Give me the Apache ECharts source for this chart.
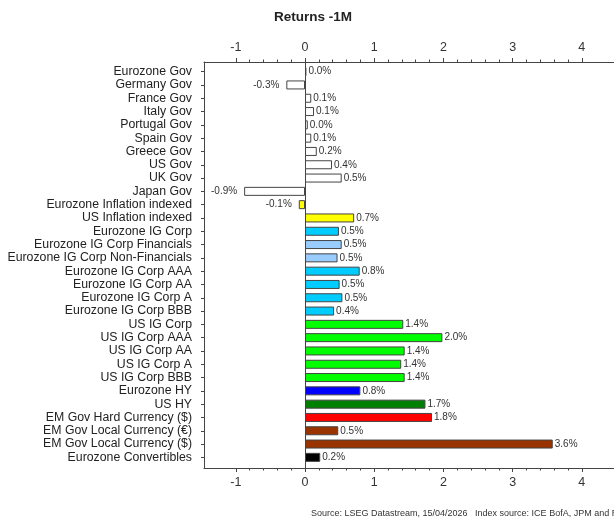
<!DOCTYPE html>
<html>
<head>
<meta charset="utf-8">
<script src="https://cdn.jsdelivr.net/npm/echarts@6/dist/echarts.min.js"></script>
<style>
  html, body { margin: 0; padding: 0; background: #fff; }
  #chart { width: 614px; height: 521px; }
</style>
</head>
<body>
<div id="chart"></div>
<script>
// Index categories, top to bottom
const categories = [
  'Eurozone Gov', 'Germany Gov', 'France Gov', 'Italy Gov', 'Portugal Gov',
  'Spain Gov', 'Greece Gov', 'US Gov', 'UK Gov', 'Japan Gov',
  'Eurozone Inflation indexed', 'US Inflation indexed', 'Eurozone IG Corp',
  'Eurozone IG Corp Financials', 'Eurozone IG Corp Non-Financials',
  'Eurozone IG Corp AAA', 'Eurozone IG Corp AA', 'Eurozone IG Corp A',
  'Eurozone IG Corp BBB', 'US IG Corp', 'US IG Corp AAA', 'US IG Corp AA',
  'US IG Corp A', 'US IG Corp BBB', 'Eurozone HY', 'US HY',
  'EM Gov Hard Currency ($)', 'EM Gov Local Currency (€)',
  'EM Gov Local Currency ($)', 'Eurozone Convertibles'
];

// One-month total returns, %
const returns1M = [
  0.02, -0.27, 0.09, 0.13, 0.04,
  0.09, 0.17, 0.39, 0.53, -0.88,
  -0.09, 0.71, 0.49,
  0.53, 0.47,
  0.79, 0.50, 0.54,
  0.42, 1.42, 1.985, 1.44,
  1.39, 1.44, 0.80, 1.74,
  1.835, 0.48,
  3.58, 0.22
];

// Fill colour for each bar, by asset class
const barColors = [
  '#ffffff', '#ffffff', '#ffffff', '#ffffff', '#ffffff',
  '#ffffff', '#ffffff', '#ffffff', '#ffffff', '#ffffff',
  '#ffff00', '#ffff00', '#00ccff',
  '#99ccff', '#99ccff',
  '#00ccff', '#00ccff', '#00ccff',
  '#00ccff', '#00ff00', '#00ff00', '#00ff00',
  '#00ff00', '#00ff00', '#0000ff', '#008000',
  '#ff0000', '#993300',
  '#993300', '#000000'
];

// Value-axis ticks
const majorTicks = [-1, 0, 1, 2, 3, 4];
const minorTicks = [
  -0.8, -0.6, -0.4, -0.2, 0.2, 0.4, 0.6, 0.8,
  1.2, 1.4, 1.6, 1.8, 2.2, 2.4, 2.6, 2.8,
  3.2, 3.4, 3.6, 3.8
];

const xMin = -1.46;
const xMax = 4.5;

const FONT = '"Liberation Sans", Arial, sans-serif';
const AXIS_COLOR = '#444';
const TEXT_COLOR = '#333';

const frameGrid = { left: 204, top: 62, width: 412.4, height: 406 };
const barGrid = { left: 204, top: 65, width: 412.4, height: 399 };

function majorAxis(position) {
  return {
    gridIndex: 0, type: 'value', position: position, min: xMin, max: xMax,
    axisLine: { show: true, onZero: false, lineStyle: { color: AXIS_COLOR, width: 1 } },
    axisTick: { show: true, customValues: majorTicks, length: 4, inside: false,
      lineStyle: { color: AXIS_COLOR, width: 1 } },
    axisLabel: { show: true, customValues: majorTicks, margin: 8,
      fontSize: 12.5, fontFamily: FONT, color: TEXT_COLOR },
    splitLine: { show: false }
  };
}

function minorAxis(position) {
  return {
    gridIndex: 0, type: 'value', position: position, min: xMin, max: xMax,
    axisLine: { show: false, onZero: false },
    axisTick: { show: true, customValues: minorTicks, length: 2.5, inside: false,
      lineStyle: { color: AXIS_COLOR, width: 1 } },
    axisLabel: { show: false },
    splitLine: { show: false }
  };
}

const chart = echarts.init(document.getElementById('chart'), null, { renderer: 'canvas' });

chart.setOption({
  animation: false,
  backgroundColor: '#ffffff',
  title: {
    text: 'Returns -1M',
    left: 313,
    textAlign: 'center',
    top: 10,
    padding: 0,
    textStyle: { fontFamily: FONT, fontSize: 13.5, fontWeight: 'bold', color: '#222' }
  },
  grid: [
    Object.assign({ containLabel: false, outerBoundsMode: 'none' }, frameGrid),
    Object.assign({ containLabel: false, outerBoundsMode: 'none' }, barGrid)
  ],
  xAxis: [
    majorAxis('top'),
    minorAxis('top'),
    majorAxis('bottom'),
    minorAxis('bottom'),
    { gridIndex: 1, type: 'value', min: xMin, max: xMax, show: false }
  ],
  yAxis: [
    // left frame line
    {
      gridIndex: 0, type: 'value', min: 0, max: 1, position: 'left',
      axisLine: { show: true, onZero: false, lineStyle: { color: AXIS_COLOR, width: 1 } },
      axisTick: { show: false }, axisLabel: { show: false }, splitLine: { show: false }
    },
    // zero reference line
    {
      gridIndex: 0, type: 'value', min: 0, max: 1,
      axisLine: { show: true, onZero: true, onZeroAxisIndex: 0,
        lineStyle: { color: AXIS_COLOR, width: 1 } },
      axisTick: { show: false }, axisLabel: { show: false }, splitLine: { show: false }
    },
    // category labels
    {
      gridIndex: 1, type: 'category', data: categories, inverse: true, position: 'left',
      axisLine: { show: false, onZero: false },
      axisTick: { show: true, alignWithLabel: true, interval: 0, length: 3, inside: false,
        lineStyle: { color: AXIS_COLOR, width: 1 } },
      axisLabel: { interval: 0, margin: 12, fontSize: 12.3, fontFamily: FONT, color: '#222' },
      splitLine: { show: false }
    }
  ],
  series: [{
    type: 'bar',
    xAxisIndex: 4,
    yAxisIndex: 2,
    barWidth: 9,
    data: returns1M.map((v, i) => ({
      value: v,
      itemStyle: { color: barColors[i] },
      label: { position: v < 0 ? 'left' : 'right', distance: v < 0 ? 7 : 2 }
    })),
    itemStyle: { borderColor: '#444', borderWidth: 1 },
    label: {
      show: true,
      fontSize: 10,
      fontFamily: FONT,
      color: TEXT_COLOR,
      formatter: p => p.value.toFixed(1) + '%'
    }
  }],
  graphic: [{
    type: 'text',
    left: 311,
    top: 509,
    style: {
      text: 'Source: LSEG Datastream, 15/04/2026   Index source: ICE BofA, JPM and Refinitiv',
      font: '9px ' + FONT,
      fill: TEXT_COLOR
    }
  }]
});
</script>
</body>
</html>
